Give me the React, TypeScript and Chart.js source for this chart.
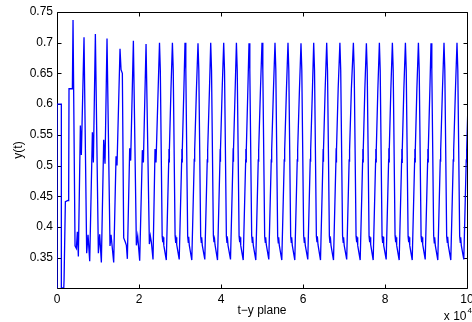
import React, { useEffect, useRef } from 'react';
import { Chart, registerables } from 'chart.js';

Chart.register(...registerables);

const FONT = '"Liberation Sans", Arial, Helvetica, sans-serif';

const xTicks = [0, 2, 4, 6, 8, 10];
const yTicks = [0.35, 0.4, 0.45, 0.5, 0.55, 0.6, 0.65, 0.7, 0.75];
const xMin = 0;
const xMax = 10;
const yMin = 0.3005;
const yMax = 0.75;

// time in units of 10^4
const transientT = [
  0, 0, 0.106, 0.106, 0.165, 0.172, 0.204, 0.269, 0.285, 0.293,
  0.375, 0.391, 0.44, 0.472, 0.497, 0.521, 0.57, 0.594, 0.659, 0.724,
  0.757, 0.798, 0.863, 0.887, 0.936, 1.009, 1.041, 1.082, 1.139, 1.171,
  1.22, 1.293, 1.318, 1.383, 1.44, 1.464, 1.537, 1.562, 1.594, 1.627,
  1.668, 1.692, 1.716, 1.773, 1.797, 1.863, 1.936, 1.968, 2.017, 2.082,
  2.107, 2.172, 2.253, 2.277, 2.302, 2.342, 2.391, 2.415,
];
const transientY = [
  0.3005, 0.6, 0.6, 0.3005, 0.3005, 0.313, 0.441, 0.443, 0.458, 0.625,
  0.625, 0.737, 0.369, 0.365, 0.392, 0.352, 0.565, 0.517, 0.709, 0.357,
  0.387, 0.344, 0.554, 0.505, 0.714, 0.357, 0.388, 0.342, 0.542, 0.503,
  0.707, 0.369, 0.387, 0.342, 0.515, 0.5, 0.69, 0.656, 0.65, 0.382,
  0.375, 0.37, 0.348, 0.528, 0.508, 0.703, 0.37, 0.385, 0.345, 0.525,
  0.505, 0.698, 0.372, 0.385, 0.375, 0.347, 0.527, 0.505,
];

const steadyT = [
  2.5, 2.52, 2.565, 2.58, 2.59, 2.605, 2.666, 2.726, 2.731, 2.736, 2.741, 2.78,
  2.815, 2.835, 2.88, 2.895, 2.905, 2.92, 2.981, 3.041, 3.046, 3.051, 3.056, 3.095,
  3.122, 3.142, 3.187, 3.202, 3.212, 3.227, 3.288, 3.348, 3.353, 3.358, 3.363, 3.402,
  3.439, 3.459, 3.504, 3.519, 3.529, 3.544, 3.605, 3.665, 3.67, 3.675, 3.68, 3.719,
  3.749, 3.769, 3.814, 3.829, 3.839, 3.854, 3.915, 3.975, 3.98, 3.985, 3.99, 4.029,
  4.066, 4.086, 4.131, 4.146, 4.156, 4.171, 4.232, 4.292, 4.297, 4.302, 4.307, 4.346,
  4.376, 4.396, 4.441, 4.456, 4.466, 4.481, 4.542, 4.602, 4.607, 4.612, 4.617, 4.656,
  4.683, 4.703, 4.748, 4.763, 4.773, 4.788, 4.849, 4.909, 4.914, 4.919, 4.924, 4.963,
  5.0, 5.02, 5.065, 5.08, 5.09, 5.105, 5.166, 5.226, 5.231, 5.236, 5.241, 5.28,
  5.317, 5.337, 5.382, 5.397, 5.407, 5.422, 5.483, 5.543, 5.548, 5.553, 5.558, 5.597,
  5.634, 5.654, 5.699, 5.714, 5.724, 5.739, 5.8, 5.86, 5.865, 5.87, 5.875, 5.914,
  5.951, 5.971, 6.016, 6.031, 6.041, 6.056, 6.117, 6.177, 6.182, 6.187, 6.192, 6.231,
  6.261, 6.281, 6.326, 6.341, 6.351, 6.366, 6.427, 6.487, 6.492, 6.497, 6.502, 6.541,
  6.578, 6.598, 6.643, 6.658, 6.668, 6.683, 6.744, 6.804, 6.809, 6.814, 6.819, 6.858,
  6.9, 6.92, 6.965, 6.98, 6.99, 7.005, 7.066, 7.126, 7.131, 7.136, 7.141, 7.18,
  7.229, 7.249, 7.294, 7.309, 7.319, 7.334, 7.395, 7.455, 7.46, 7.465, 7.47, 7.509,
  7.546, 7.566, 7.611, 7.626, 7.636, 7.651, 7.712, 7.772, 7.777, 7.782, 7.787, 7.826,
  7.863, 7.883, 7.928, 7.943, 7.953, 7.968, 8.029, 8.089, 8.094, 8.099, 8.104, 8.143,
  8.18, 8.2, 8.245, 8.26, 8.27, 8.285, 8.346, 8.406, 8.411, 8.416, 8.421, 8.46,
  8.498, 8.518, 8.563, 8.578, 8.588, 8.603, 8.664, 8.724, 8.729, 8.734, 8.739, 8.778,
  8.815, 8.835, 8.88, 8.895, 8.905, 8.92, 8.981, 9.041, 9.046, 9.051, 9.056, 9.095,
  9.122, 9.142, 9.187, 9.202, 9.212, 9.227, 9.288, 9.348, 9.353, 9.358, 9.363, 9.402,
  9.439, 9.459, 9.504, 9.519, 9.529, 9.544, 9.605, 9.665, 9.67, 9.675, 9.68, 9.719,
  9.756, 9.776, 9.821, 9.836, 9.846, 9.861, 9.922, 9.982, 9.987, 9.992, 9.997, 10.036,
];
const steadyY = [
  0.7, 0.655, 0.385, 0.375, 0.383, 0.37, 0.346, 0.51, 0.527, 0.506, 0.525, 0.625,
  0.7, 0.655, 0.386, 0.374, 0.383, 0.371, 0.347, 0.51, 0.527, 0.506, 0.525, 0.625,
  0.7, 0.656, 0.385, 0.375, 0.384, 0.37, 0.346, 0.511, 0.528, 0.506, 0.525, 0.626,
  0.699, 0.655, 0.385, 0.375, 0.383, 0.37, 0.347, 0.51, 0.527, 0.505, 0.525, 0.625,
  0.7, 0.655, 0.386, 0.375, 0.383, 0.371, 0.346, 0.51, 0.527, 0.506, 0.526, 0.625,
  0.7, 0.654, 0.385, 0.374, 0.383, 0.37, 0.347, 0.51, 0.528, 0.506, 0.525, 0.625,
  0.7, 0.655, 0.385, 0.375, 0.383, 0.37, 0.346, 0.509, 0.527, 0.506, 0.525, 0.626,
  0.699, 0.655, 0.386, 0.375, 0.384, 0.37, 0.346, 0.51, 0.527, 0.506, 0.525, 0.625,
  0.7, 0.655, 0.385, 0.375, 0.383, 0.371, 0.347, 0.51, 0.527, 0.505, 0.525, 0.625,
  0.7, 0.656, 0.385, 0.374, 0.383, 0.37, 0.346, 0.51, 0.528, 0.506, 0.525, 0.625,
  0.7, 0.655, 0.385, 0.375, 0.383, 0.37, 0.346, 0.51, 0.527, 0.506, 0.526, 0.625,
  0.699, 0.655, 0.386, 0.375, 0.383, 0.37, 0.347, 0.511, 0.527, 0.506, 0.525, 0.626,
  0.7, 0.655, 0.385, 0.375, 0.384, 0.371, 0.346, 0.51, 0.527, 0.506, 0.525, 0.625,
  0.7, 0.654, 0.385, 0.374, 0.383, 0.37, 0.346, 0.51, 0.528, 0.505, 0.525, 0.625,
  0.7, 0.655, 0.386, 0.375, 0.383, 0.37, 0.347, 0.51, 0.527, 0.506, 0.525, 0.625,
  0.7, 0.655, 0.385, 0.375, 0.383, 0.37, 0.346, 0.509, 0.527, 0.506, 0.526, 0.626,
  0.699, 0.656, 0.385, 0.375, 0.383, 0.371, 0.346, 0.51, 0.527, 0.506, 0.525, 0.625,
  0.7, 0.655, 0.385, 0.374, 0.384, 0.37, 0.347, 0.51, 0.528, 0.506, 0.525, 0.625,
  0.7, 0.655, 0.386, 0.375, 0.383, 0.37, 0.346, 0.51, 0.527, 0.505, 0.525, 0.625,
  0.7, 0.655, 0.385, 0.375, 0.383, 0.37, 0.346, 0.511, 0.527, 0.506, 0.525, 0.626,
  0.7, 0.654, 0.385, 0.375, 0.383, 0.371, 0.347, 0.51, 0.527, 0.506, 0.526, 0.625,
  0.699, 0.655, 0.386, 0.374, 0.383, 0.37, 0.346, 0.51, 0.528, 0.506, 0.525, 0.625,
  0.7, 0.655, 0.385, 0.375, 0.384, 0.37, 0.346, 0.51, 0.527, 0.506, 0.525, 0.625,
  0.7, 0.655, 0.385, 0.375, 0.383, 0.37, 0.347, 0.51, 0.527, 0.505, 0.525, 0.63,
];

const xTitle = 't\u2212y plane';
const yTitle = 'y(t)';
const exponentBase = 'x 10';
const exponentPower = '4';

const boxPlugin = {
  id: 'matlabBox',
  beforeDatasetsDraw(chart: any) {
    const { ctx, chartArea: a, scales } = chart;
    ctx.save();
    ctx.strokeStyle = '#000';
    ctx.lineWidth = 1;
    const l = Math.round(a.left) + 0.5;
    const r = Math.round(a.right) + 0.5;
    const t = Math.round(a.top) + 0.5;
    const b = Math.round(a.bottom) + 0.5;
    ctx.beginPath();
    ctx.rect(l, t, r - l, b - t);
    const tl = 4;
    for (const v of xTicks) {
      const px = Math.round(scales.x.getPixelForValue(v)) + 0.5;
      ctx.moveTo(px, b);
      ctx.lineTo(px, b - tl);
      ctx.moveTo(px, t);
      ctx.lineTo(px, t + tl);
    }
    for (const v of yTicks) {
      const py = Math.round(scales.y.getPixelForValue(v)) + 0.5;
      ctx.moveTo(l, py);
      ctx.lineTo(l + tl, py);
      ctx.moveTo(r, py);
      ctx.lineTo(r - tl, py);
    }
    ctx.stroke();
    ctx.restore();
  },
  afterDraw(chart: any) {
    const { ctx, chartArea: a } = chart;
    ctx.save();
    ctx.fillStyle = '#000';
    ctx.textBaseline = 'alphabetic';
    ctx.textAlign = 'right';
    ctx.font = `12px ${FONT}`;
    ctx.fillText(exponentBase, a.right - 0.5, 320);
    ctx.textAlign = 'left';
    ctx.font = `8px ${FONT}`;
    ctx.fillText(exponentPower, a.right + 0.5, 313);
    ctx.restore();
  },
};

export default function App() {
  const canvasRef = useRef<HTMLCanvasElement | null>(null);

  useEffect(() => {
    document.body.style.margin = '0';
    const canvas = canvasRef.current;
    if (!canvas) return;
    const tAll = [...transientT, ...steadyT];
    const yAll = [...transientY, ...steadyY];
    const points = tAll.map((t, i) => ({ x: t, y: yAll[i] }));

    const chart = new Chart(canvas, {
      type: 'line',
      data: {
        datasets: [
          {
            data: points,
            borderColor: '#0000ff',
            borderWidth: 1.3,
            pointRadius: 0,
            tension: 0,
            fill: false,
          },
        ],
      },
      options: {
        animation: false,
        responsive: false,
        events: [],
        layout: { padding: { top: 12, right: 5, left: 0, bottom: 0 } },
        plugins: {
          legend: { display: false },
          tooltip: { enabled: false },
        },
        scales: {
          x: {
            type: 'linear',
            min: xMin,
            max: xMax,
            afterBuildTicks: (s: any) => {
              s.ticks = xTicks.map((v) => ({ value: v }));
            },
            afterFit: (s: any) => {
              s.height = 34;
              s.paddingLeft = 0;
              s.paddingRight = 0;
            },
            grid: { display: false, drawTicks: false },
            border: { display: false },
            ticks: {
              padding: 4,
              color: '#000',
              font: { family: FONT, size: 12 },
              maxRotation: 0,
              autoSkip: false,
              callback: (v: any) => String(v),
            },
            title: {
              display: true,
              text: xTitle,
              color: '#000',
              font: { family: FONT, size: 12 },
              padding: { top: 0, bottom: 4 },
            },
          },
          y: {
            type: 'linear',
            min: yMin,
            max: yMax,
            afterBuildTicks: (s: any) => {
              s.ticks = yTicks.map((v) => ({ value: v }));
            },
            afterFit: (s: any) => {
              s.width = 57;
              s.paddingTop = 0;
              s.paddingBottom = 0;
            },
            grid: { display: false, drawTicks: false },
            border: { display: false },
            ticks: {
              padding: 4,
              color: '#000',
              font: { family: FONT, size: 12 },
              autoSkip: false,
              callback: (v: any) => String(v),
            },
            title: {
              display: true,
              text: yTitle,
              color: '#000',
              font: { family: FONT, size: 12 },
              padding: { top: 11, bottom: 0 },
            },
          },
        },
      },
      plugins: [boxPlugin],
    });
    return () => chart.destroy();
  }, []);

  return (
    <div style={{ width: 472, height: 322, background: '#fff' }}>
      <canvas ref={canvasRef} width={472} height={322} style={{ display: 'block' }} />
    </div>
  );
}
